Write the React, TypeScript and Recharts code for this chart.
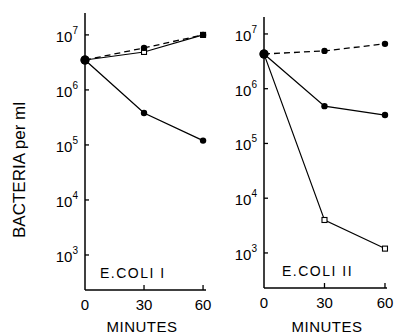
import { LineChart, Line, XAxis, YAxis } from 'recharts';

const minutes = [0, 30, 60];

// E. coli I
const coli1Control = [3.5e6, 5.8e6, 1.0e7];
const coli1Square = [3.5e6, 4.9e6, 1.0e7];
const coli1Treated = [3.5e6, 3.8e5, 1.2e5];

// E. coli II
const coli2Control = [4.3e6, 4.9e6, 6.6e6];
const coli2Treated = [4.3e6, 4.8e5, 3.3e5];
const coli2Square = [4.3e6, 4.0e3, 1.2e3];

const yTicks = [1e3, 1e4, 1e5, 1e6, 1e7];
const xTicks = [0, 30, 60];

const FONT = '"Liberation Sans", Arial, sans-serif';

const buildRows = (a: number[], b: number[], c: number[]) =>
  minutes.map((m, i) => ({ minute: m, control: a[i], square: b[i], treated: c[i] }));

const rows1 = buildRows(coli1Control, coli1Square, coli1Treated);
const rows2 = buildRows(coli2Control, coli2Square, coli2Treated);

const YTick = (props: any) => {
  const { x, y, payload } = props;
  const exp = Math.round(Math.log10(payload.value));
  return (
    <g>
      <line x1={x} y1={y} x2={x + 4} y2={y} stroke="#000" strokeWidth={1.3} />
      <text x={x - 7} y={y + 7} textAnchor="end" fontSize={15} fontFamily={FONT} fill="#000">
        <tspan>10</tspan>
        <tspan dy={-8} fontSize={10}>{exp}</tspan>
      </text>
    </g>
  );
};

const XTick = (props: any) => {
  const { x, y, payload } = props;
  return (
    <g>
      {payload.value !== 0 && <line x1={x} y1={y} x2={x} y2={y - 5} stroke="#000" strokeWidth={1.3} />}
      <text x={x} y={y + 20} textAnchor="middle" fontSize={15} fontFamily={FONT} fill="#000">
        {payload.value}
      </text>
    </g>
  );
};

const SquareDot = (props: any) => {
  const { cx, cy, index } = props;
  if (cx == null || cy == null || index === 0) return <g key={index} />;
  return <rect key={index} x={cx - 2.5} y={cy - 2.5} width={5} height={5} fill="#fff" stroke="#000" strokeWidth={1.1} />;
};

const CircleDot = (props: any) => {
  const { cx, cy, index } = props;
  if (cx == null || cy == null) return <g key={index} />;
  return <circle key={index} cx={cx} cy={cy} r={index === 0 ? 4.5 : 3.2} fill="#000" />;
};

interface PanelProps {
  data: any[];
  width: number;
  yWidth: number;
  top: number;
  right: number;
  xHeight: number;
  xMax: number;
  yDomain: [number, number];
}

const Panel = ({ data, width, yWidth, top, right, xHeight, xMax, yDomain }: PanelProps) => (
  <LineChart width={width} height={335} data={data} margin={{ top, right, bottom: 0, left: 0 }} style={{ overflow: 'visible' }}>
    <XAxis
      dataKey="minute"
      type="number"
      domain={[0, xMax]}
      ticks={xTicks}
      tick={<XTick />}
      tickSize={0}
      tickMargin={0}
      height={xHeight}
      axisLine={{ stroke: '#000', strokeWidth: 1.5 }}
      tickLine={false}
    />
    <YAxis
      scale="log"
      type="number"
      domain={yDomain}
      allowDataOverflow
      ticks={yTicks}
      tick={<YTick />}
      tickSize={0}
      tickMargin={0}
      width={yWidth}
      axisLine={{ stroke: '#000', strokeWidth: 1.5 }}
      tickLine={false}
    />
    <Line dataKey="square" stroke="#000" strokeWidth={1.1} dot={<SquareDot />} isAnimationActive={false} />
    <Line dataKey="treated" stroke="#000" strokeWidth={1.3} dot={<CircleDot />} isAnimationActive={false} />
    <Line dataKey="control" stroke="#000" strokeWidth={1.3} strokeDasharray="6 4" dot={<CircleDot />} isAnimationActive={false} />
  </LineChart>
);

export default function App() {
  return (
    <div style={{ position: 'absolute', left: 0, top: 0, width: 397, height: 335, background: '#fff', fontFamily: FONT }}>
      <div style={{ position: 'absolute', left: 0, top: 0 }}>
        <Panel data={rows1} width={212} yWidth={85} top={13} right={6} xHeight={45} xMax={61.5} yDomain={[231, 2.5e7]} />
      </div>
      <div style={{ position: 'absolute', left: 212, top: 0 }}>
        <Panel data={rows2} width={185} yWidth={52} top={17} right={10} xHeight={47} xMax={61} yDomain={[229, 2.04e7]} />
      </div>
      <svg width={397} height={335} style={{ position: 'absolute', left: 0, top: 0, pointerEvents: 'none' }}>
        <text x={25} y={170} transform="rotate(-90 25 170)" textAnchor="middle" fontSize={17} fontFamily={FONT} fill="#000">
          BACTERIA per ml
        </text>
        <text x={142} y={332} textAnchor="middle" fontSize={15} fontFamily={FONT} fill="#000" letterSpacing={0.5}>
          MINUTES
        </text>
        <text x={327} y={332} textAnchor="middle" fontSize={15} fontFamily={FONT} fill="#000" letterSpacing={0.5}>
          MINUTES
        </text>
        <text x={100} y={278} fontSize={14} fontFamily={FONT} fill="#000" letterSpacing={1.5}>
          E.COLI I
        </text>
        <text x={282} y={276} fontSize={14} fontFamily={FONT} fill="#000" letterSpacing={1.5}>
          E.COLI II
        </text>
      </svg>
    </div>
  );
}
